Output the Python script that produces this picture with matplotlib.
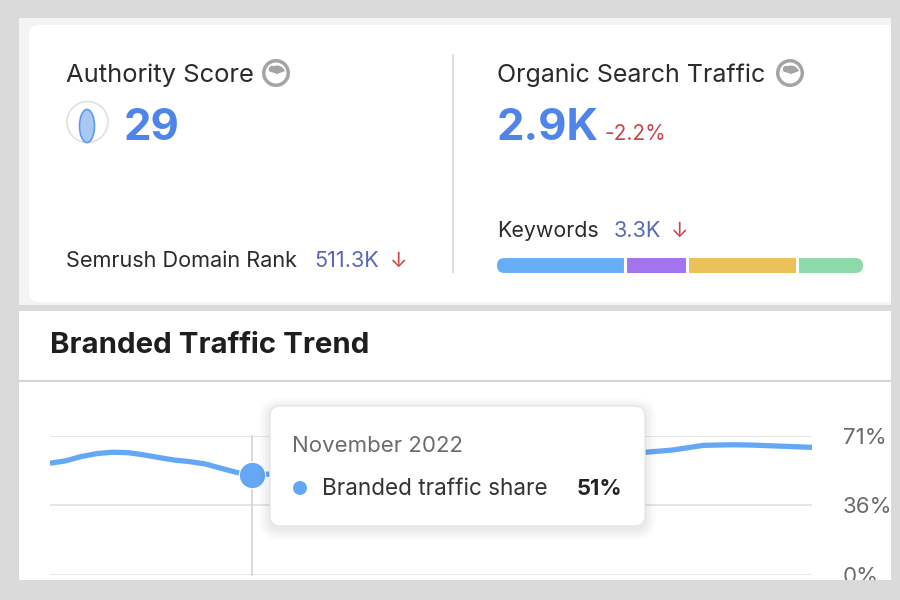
import numpy as np
import matplotlib
matplotlib.use('Agg')
import matplotlib.pyplot as plt
from matplotlib.patches import FancyBboxPatch, Circle, Ellipse, Rectangle, Wedge

plt.rcParams['font.family'] = ['Inter', 'DejaVu Sans']

# data
authority_score = '29'
domain_rank = '511.3K'
organic_traffic = '2.9K'
traffic_change = '-2.2%'
keywords_total = '3.3K'
keyword_shares = [35, 17, 30, 18]
keyword_colors = ['#68aef6', '#a274ee', '#ebc15a', '#8cd9aa']

# branded traffic share, weekly positions (middle part hidden by the tooltip)
weeks = [0, 1, 2, 3, 4, 5, 6, 7, 8, 9, 10, 11, 12, 13,
         15, 18, 22, 26, 30, 34, 37, 38, 40, 42, 43, 44, 45, 46, 47, 48, 49]
share = [57.1, 58.3, 60.5, 62.0, 62.7, 62.5, 61.4, 60.0, 58.7, 57.9, 56.7, 54.5, 52.4, 51.0,
         52.0, 54.5, 57.5, 59.5, 60.8, 61.6, 62.2, 62.5, 63.8, 66.2, 66.4, 66.5, 66.4, 66.1,
         65.8, 65.5, 65.2]
hover_week = 13
hover_label = 'November 2022'
hover_value = 51
y_ticks = [0, 36, 71]

GRAY_BG = '#dadada'
BLUE = '#64a8f5'
NUM_BLUE = '#4f85ea'
RED = '#c9454a'
LINK = '#5a68b8'
DARK = '#2b2b2b'

fig = plt.figure(figsize=(9, 6), dpi=100)
fig.patch.set_facecolor(GRAY_BG)

# background layer in pixel coordinates
bg = fig.add_axes([0, 0, 1, 1], zorder=0)
bg.set_xlim(0, 900)
bg.set_ylim(600, 0)
bg.axis('off')

bg.add_patch(Rectangle((19, 18), 872, 287, color='#f3f4f5', lw=0))
bg.add_patch(FancyBboxPatch((29, 25), 880, 277, boxstyle='round,pad=0,rounding_size=10',
                            fc='white', ec='none'))
bg.add_patch(Rectangle((19, 311), 872, 270, color='white', lw=0))
bg.plot([19, 891], [381, 381], color='#d6d6d6', lw=1.6)
bg.plot([453, 453], [55, 272], color='#d5d5d5', lw=1.2)


def globe(cx, cy):
    bg.add_patch(Circle((cx, cy), 14, color='#a4a4a4', lw=0))
    bg.add_patch(Circle((cx, cy), 10.5, color='white', lw=0))
    bg.add_patch(Wedge((cx + 1, cy + 1), 8.5, 200, 340, color='#a4a4a4', lw=0))
    bg.add_patch(Circle((cx - 4, cy - 4), 3.2, color='#a4a4a4', lw=0))


# Authority Score block
bg.text(66, 82, 'Authority Score', fontsize=18.4, color=DARK, va='baseline')
globe(276, 73)
bg.add_patch(Circle((87.5, 122), 20.5, fc='white', ec='#e2e2e2', lw=1.3))
bg.add_patch(Ellipse((87, 126), 15, 33, fc='#a9c8f6', ec='#5b9bf0', lw=1.2))
bg.text(124, 140, authority_score, fontsize=31.5, fontweight='bold', color=NUM_BLUE, va='baseline')
bg.text(66, 267, 'Semrush Domain Rank', fontsize=15.6, color=DARK, va='baseline')
bg.text(314, 267, domain_rank, fontsize=15.6, color=LINK, va='baseline')
bg.text(390, 267, '↓', fontsize=15, color=RED, va='baseline')

# Organic Search Traffic block
bg.text(497, 82, 'Organic Search Traffic', fontsize=18.0, color=DARK, va='baseline')
globe(790, 73)
bg.text(497, 140, organic_traffic, fontsize=31.5, fontweight='bold', color=NUM_BLUE, va='baseline')
bg.text(604, 140, traffic_change, fontsize=15.0, color=RED, va='baseline')
bg.text(497, 237, 'Keywords', fontsize=15.4, color=DARK, va='baseline')
bg.text(614, 237, keywords_total, fontsize=15.6, color=LINK, va='baseline')
bg.text(671, 237, '↓', fontsize=15, color=RED, va='baseline')

# keyword intent bar
kw = fig.add_axes([497 / 900, (600 - 273) / 600, 366 / 900, 15 / 600], zorder=1)
kw.set_xlim(0, sum(keyword_shares))
kw.set_ylim(-0.5, 0.5)
kw.axis('off')
clip = FancyBboxPatch((497, 258), 366, 15, boxstyle='round,pad=0,rounding_size=7.5',
                      transform=bg.transData, fc='none', ec='none')
lefts = np.cumsum([0] + keyword_shares[:-1])
bars = kw.barh(0, keyword_shares, left=lefts, height=1, color=keyword_colors, lw=0)
for b in bars:
    b.set_clip_path(clip)
for x in lefts[1:]:
    kw.axvline(x, color='white', lw=2.2)

# Branded Traffic Trend header
bg.text(50, 353, 'Branded Traffic Trend', fontsize=21.2, fontweight='bold', color='#1e1e1e',
        va='baseline')

# trend chart
ax = fig.add_axes([50 / 900, 25 / 600, 762 / 900, 139 / 600], zorder=1)
ax.set_facecolor('none')
ax.set_xlim(weeks[0], weeks[-1])
ax.set_ylim(0, 71)
for s in ax.spines.values():
    s.set_visible(False)
ax.set_xticks([])
ax.set_yticks(y_ticks)
ax.set_yticklabels([f'{t}%' for t in y_ticks])
ax.yaxis.tick_right()
ax.tick_params(axis='y', length=0, pad=22, labelsize=16, labelcolor='#6a6a6a')
ax.grid(axis='y', color='#e4e4e4', lw=1.3)
ax.set_axisbelow(True)
ax.axvline(hover_week, ymin=0, ymax=1, color='#d3d3d3', lw=1.2, clip_on=False)
ax.plot(weeks, share, color=BLUE, lw=3.8, solid_capstyle='butt', solid_joinstyle='round')
ax.plot([hover_week], [hover_value], 'o', ms=19, color=BLUE, mec='white', mew=0.8)

# tooltip layer
top = fig.add_axes([0, 0, 1, 1], zorder=2)
top.set_xlim(0, 900)
top.set_ylim(600, 0)
top.axis('off')
for i, a in enumerate([0.025, 0.025, 0.02, 0.015]):
    g = 2 + i * 3
    top.add_patch(FancyBboxPatch((270 - g, 406 - g + 3), 375 + 2 * g, 120 + 2 * g,
                                 boxstyle=f'round,pad=0,rounding_size={10 + g}',
                                 fc='black', ec='none', alpha=a))
top.add_patch(FancyBboxPatch((270, 406), 375, 120, boxstyle='round,pad=0,rounding_size=10',
                             fc='white', ec='#e6e6e6', lw=1))
top.text(292, 452, hover_label, fontsize=16, color='#6b6b6b', va='baseline')
top.add_patch(Circle((300, 488), 7, color=BLUE, lw=0))
top.text(322, 495, 'Branded traffic share', fontsize=16.2, color='#333333', va='baseline')
top.text(622, 495, f'{hover_value}%', fontsize=15.8, fontweight='bold', color='#222222',
         va='baseline', ha='right')

# gray frame over the bottom and right edge
top.add_patch(Rectangle((0, 580), 900, 20, color=GRAY_BG, lw=0))
top.add_patch(Rectangle((891, 0), 9, 600, color=GRAY_BG, lw=0))

fig.savefig('out.png', dpi=100, facecolor=GRAY_BG)
